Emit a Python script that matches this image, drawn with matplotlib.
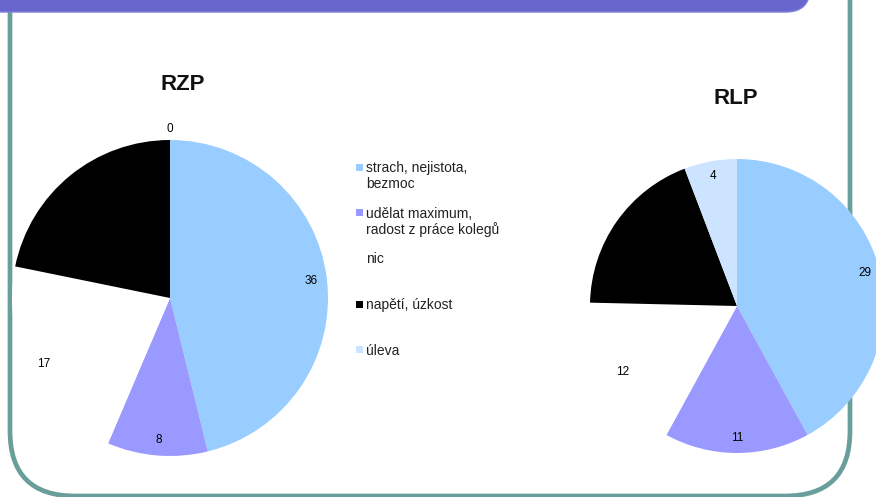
import numpy as np
import matplotlib.pyplot as plt
from matplotlib.patches import FancyBboxPatch, Rectangle

plt.rcParams['font.family'] = ['Liberation Sans', 'DejaVu Sans']

kategorie = ["strach, nejistota,\nbezmoc", "udělat maximum,\nradost z práce kolegů",
             "nic", "napětí, úzkost", "úleva"]
barvy = ["#99CCFF", "#9999FF", "#FFFFFF", "#000000", "#CCE4FF"]
rzp = [36, 8, 17, 17, 0]
rlp = [29, 11, 12, 13, 4]

W, H = 876, 497
fig = plt.figure(figsize=(W / 100, H / 100), dpi=100)

# pozadi - ramecek a fialovy pruh nahore
bg = fig.add_axes([0, 0, 1, 1])
bg.set_xlim(0, W)
bg.set_ylim(H, 0)
bg.axis('off')
bg.add_patch(FancyBboxPatch((10, -150), 840, 646, boxstyle="round,pad=0,rounding_size=65",
                            fc='none', ec='#6A9E9B', lw=3.4, zorder=1))
bg.add_patch(FancyBboxPatch((-60, -80), 870, 92, boxstyle="round,pad=0,rounding_size=24",
                            fc='#6666CC', ec='#8080D8', lw=1, zorder=2))


def kolac(cx, cy, r, hodnoty, nadpis, nx, ny):
    ax = fig.add_axes([(cx - r) / W, (H - cy - r) / H, 2 * r / W, 2 * r / H])
    wedges, _ = ax.pie(hodnoty, colors=barvy, startangle=90, counterclock=False,
                       wedgeprops=dict(linewidth=0))
    ax.set_xlim(-1, 1)
    ax.set_ylim(-1, 1)
    ax.set_aspect('auto')
    ax.axis('off')
    for w, v in zip(wedges, hodnoty):
        a = np.deg2rad((w.theta1 + w.theta2) / 2)
        d = 1.07 if v == 0 else 0.9
        ax.text(d * np.cos(a), d * np.sin(a), str(v), ha='center', va='center',
                fontsize=8.5, color='#000000', clip_on=False)
    for c in ax.get_children():
        c.set_clip_on(False)
    bg.text(nx, ny, nadpis, ha='center', va='center', fontsize=16,
            fontweight='bold', color='#111111', zorder=5)
    return ax


kolac(170, 298, 158, rzp, "RZP", 183, 84)
kolac(737, 306, 147, rlp, "RLP", 736, 98)

# legenda
for i, (k, b) in enumerate(zip(kategorie, barvy)):
    y = 167 + i * 45.7
    bg.add_patch(Rectangle((356, y - 3.5), 7, 7, fc=b, ec='none', zorder=5))
    bg.text(366, y - 6, k, ha='left', va='top', fontsize=10, color='#222222',
            linespacing=1.15, zorder=5)

fig.savefig('out.png', dpi=100)
